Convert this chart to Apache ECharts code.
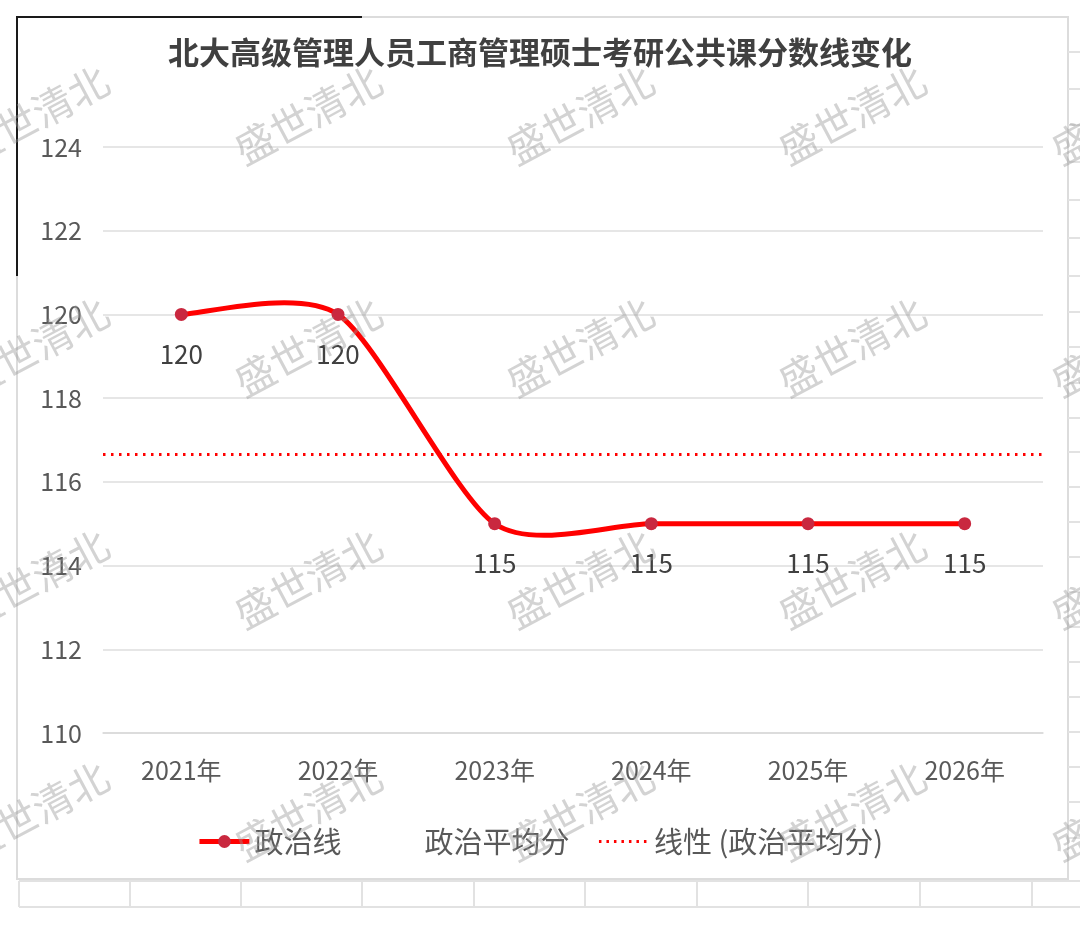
<!DOCTYPE html>
<html>
<head>
<meta charset="utf-8">
<script src="https://cdn.jsdelivr.net/npm/echarts@6/dist/echarts.min.js"></script>
<style>html,body{margin:0;padding:0;background:#fff;}#chart{width:1080px;height:925px;}</style>
</head>
<body>
<div id="chart"></div>
<script>
const titleText = '北大高级管理人员工商管理硕士考研公共课分数线变化';
const categories = ['2021年', '2022年', '2023年', '2024年', '2025年', '2026年'];
const politicsLine = [120, 120, 115, 115, 115, 115];
const politicsAvg = [116.67, 116.67, 116.67, 116.67, 116.67, 116.67];
const trendValue = 116.67;
const seriesNames = ['政治线', '政治平均分', '线性 (政治平均分)'];
const watermarkText = '盛世清北';

const FONT = "'Noto Sans CJK SC', 'Noto Sans', sans-serif";
const RED = '#ff0000';
const chart = echarts.init(document.getElementById('chart'), null, {renderer: 'canvas'});

const graphics = [];
// chart frame
graphics.push({type: 'rect', shape: {x: 17, y: 17, width: 1051, height: 862}, style: {fill: 'none', stroke: '#dcdcdc', lineWidth: 2}, z: -1, silent: true});
graphics.push({type: 'line', shape: {x1: 17, y1: 17, x2: 362, y2: 17}, style: {stroke: '#1a1a1a', lineWidth: 2}, silent: true});
graphics.push({type: 'line', shape: {x1: 17, y1: 16, x2: 17, y2: 276}, style: {stroke: '#1a1a1a', lineWidth: 2}, silent: true});
// spreadsheet cells below
[881, 907].forEach(y => graphics.push({type: 'line', shape: {x1: 19, y1: y, x2: 1080, y2: y}, style: {stroke: '#e2e2e2', lineWidth: 2}, silent: true}));
[19, 130, 241, 362, 474, 585, 697, 808, 920, 1032].forEach(x => graphics.push({type: 'line', shape: {x1: x, y1: 881, x2: x, y2: 907}, style: {stroke: '#e2e2e2', lineWidth: 2}, silent: true}));
// spreadsheet rows at right
[52, 89, 125, 162, 200, 238, 276, 312, 347, 383, 418, 452, 487, 522, 557, 592, 627, 662, 697, 732, 767, 802, 838].forEach(y => graphics.push({type: 'line', shape: {x1: 1068, y1: y, x2: 1080, y2: y}, style: {stroke: '#e2e2e2', lineWidth: 2}, silent: true}));
// watermarks
const wmCols = [35, 308, 580, 852, 1125];
const wmRows = [115, 347, 579, 811];
wmRows.forEach(y => wmCols.forEach(x => graphics.push({
  type: 'text', x: x, y: y, rotation: 0.49, z: 100, silent: true,
  style: {text: watermarkText, font: '40px ' + FONT, fill: 'rgba(150,150,150,0.42)', textAlign: 'center', textVerticalAlign: 'middle'}
})));

// Excel-like smoothed curve (Catmull-Rom style) through the data, via the axis scales
function renderCurve(params, api) {
  if (params.dataIndex !== 0) return null;
  const pts = politicsLine.map((v, i) => api.coord([i, v]));
  const k = 0.125;
  const children = [];
  for (let i = 0; i < pts.length - 1; i++) {
    const p0 = pts[Math.max(i - 1, 0)], p1 = pts[i], p2 = pts[i + 1], p3 = pts[Math.min(i + 2, pts.length - 1)];
    children.push({
      type: 'bezierCurve',
      shape: {
        x1: p1[0], y1: p1[1], x2: p2[0], y2: p2[1],
        cpx1: p1[0] + (p2[0] - p0[0]) * k, cpy1: p1[1] + (p2[1] - p0[1]) * k,
        cpx2: p2[0] - (p3[0] - p1[0]) * k, cpy2: p2[1] - (p3[1] - p1[1]) * k
      },
      style: {stroke: RED, lineWidth: 5, fill: 'none', lineCap: 'round'}
    });
  }
  return {type: 'group', children: children};
}

const option = {
  backgroundColor: '#ffffff',
  animation: false,
  title: {
    text: titleText, left: 'center', top: 32,
    textStyle: {fontFamily: FONT, fontSize: 31, fontWeight: 'bold', color: '#404040'}
  },
  legend: {
    top: 822, left: 'center',
    itemWidth: 50, itemHeight: 16, itemGap: 28,
    textStyle: {fontFamily: FONT, fontSize: 29, color: '#595959'},
    data: [
      {name: seriesNames[0], lineStyle: {color: RED, width: 5, opacity: 1}, itemStyle: {color: '#c9283f'}},
      {name: seriesNames[1], itemStyle: {opacity: 0}, lineStyle: {opacity: 0}},
      {name: seriesNames[2], itemStyle: {opacity: 0}, lineStyle: {color: RED, width: 3, type: [2.5, 5], opacity: 1}}
    ]
  },
  grid: {left: 103, right: 37, top: 147, bottom: 192, containLabel: false},
  xAxis: {
    type: 'category', data: categories, boundaryGap: true,
    axisLine: {show: true, lineStyle: {color: '#d9d9d9', width: 1.5}},
    axisTick: {show: false},
    axisLabel: {fontFamily: FONT, fontSize: 25, color: '#595959', margin: 25}
  },
  yAxis: {
    type: 'value', min: 110, max: 124, interval: 2,
    axisLine: {show: false}, axisTick: {show: false},
    splitLine: {lineStyle: {color: '#dedede', width: 1.5}},
    axisLabel: {fontFamily: FONT, fontSize: 25, color: '#595959', margin: 21}
  },
  series: [
    {
      name: seriesNames[0], type: 'line', data: politicsLine,
      symbol: 'circle', symbolSize: 13,
      lineStyle: {color: RED, width: 5, opacity: 0},
      itemStyle: {color: '#c9283f'},
      label: {show: true, position: 'bottom', distance: 20, fontFamily: FONT, fontSize: 26, color: '#404040'},
      z: 6
    },
    {
      name: seriesNames[1], type: 'line', data: politicsAvg, symbol: 'none',
      lineStyle: {opacity: 0, width: 0}, itemStyle: {opacity: 0}, silent: true
    },
    {
      name: seriesNames[2], type: 'line', data: [], symbol: 'none',
      lineStyle: {color: RED, width: 3, type: [2.5, 5]},
      itemStyle: {color: RED},
      markLine: {
        silent: true, symbol: 'none', label: {show: false},
        lineStyle: {color: RED, width: 2.8, type: [2.5, 5.5]},
        data: [{yAxis: trendValue}]
      }
    },
    {
      name: 'curve', type: 'custom', coordinateSystem: 'cartesian2d',
      data: [[0, politicsLine[0]]], renderItem: renderCurve, silent: true, z: 4
    }
  ],
  graphic: graphics
};
chart.setOption(option);
</script>
</body>
</html>
